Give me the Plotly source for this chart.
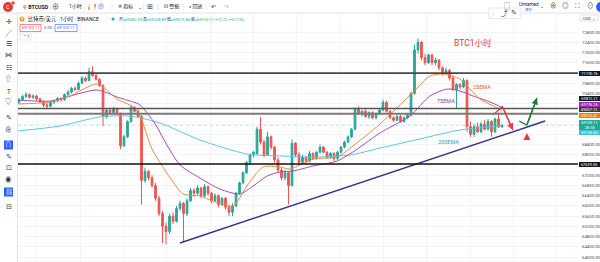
import plotly.graph_objects as go

W, H = 600, 262
ML, MR, MT, MB = 18, 22, 13, 0
PW, PH = W - ML - MR, H - MT - MB

# ---------------- data ----------------
open_ = [
    70050, 70150, 70280, 70350, 70250, 70300, 70180, 70080, 69950, 69900,
    70050, 70100, 70200, 70150, 70350, 70450, 70600, 70550, 70800, 71000,
    70900, 71250, 71100, 70950, 70700, 69500, 69750, 69650, 69800, 69600,
    68350, 68700, 69300, 69850, 69700, 69500, 67000, 67350, 67100, 66800,
    66300, 65700, 65200, 65000, 65600, 65400, 65900, 66100, 65700, 66200,
    66600, 66500, 66700, 66400, 66750, 66500, 66200, 66400, 66050, 66300,
    65950, 65750, 66000, 66500, 66900, 67300, 67700, 68000, 68050, 69000,
    68500, 68000, 68700, 68300, 67800, 67400, 67100, 67300, 66800, 68450,
    68000, 67700, 67900, 67750, 68050, 67850, 68100, 68300, 68100, 67900,
    68050, 67850, 68100, 68300, 68500, 68700, 69000, 69800, 69600, 69700,
    69500, 69650, 69450, 69600, 69750, 70050, 69700, 69450, 69350, 69500,
    69300, 69450, 69550, 70400, 72100, 72400, 71800, 71600, 71900, 71600,
    71700, 71400, 71200, 71300, 71000, 70550, 70750, 70650, 70900, 69100,
    68800, 69100, 68900, 69200, 69000, 69300, 68900, 69400, 69082.33]
high = [
    70220, 70330, 70450, 70400, 70360, 70340, 70230, 70120, 70020, 70100,
    70160, 70260, 70250, 70400, 70520, 70650, 70680, 70860, 71080, 71060,
    71400, 71470, 71160, 71000, 70760, 69800, 69820, 69880, 69850, 69650,
    68780, 69350, 69950, 69900, 69780, 69550, 67500, 67400, 67200, 66900,
    66400, 65800, 65350, 65700, 65750, 66000, 66200, 66150, 66300, 66700,
    66700, 66800, 66750, 66850, 66800, 66550, 66500, 66450, 66350, 66350,
    66050, 66100, 66550, 66950, 67350, 67750, 68050, 68150, 69100, 69480,
    68600, 68900, 68750, 68350, 67900, 67500, 67400, 67350, 68600, 68500,
    68100, 68000, 67950, 68150, 68100, 68150, 68400, 68350, 68150, 68100,
    68100, 68150, 68350, 68550, 68750, 69050, 69850, 69900, 69750, 69780,
    69700, 69700, 69650, 69800, 70150, 70100, 69750, 69500, 69550, 69550,
    69500, 69600, 70450, 72300, 72550, 72450, 71950, 71950, 71950, 71800,
    71750, 71450, 71400, 71350, 71100, 70800, 70800, 71000, 70950, 69300,
    69200, 69250, 69300, 69350, 69400, 69350, 69450, 69650, 69208.89]
low = [
    69980, 70100, 70220, 70200, 70180, 70120, 70020, 69850, 69780, 69860,
    69980, 70060, 70080, 70120, 70300, 70400, 70480, 70520, 70760, 70840,
    70880, 71050, 70900, 70650, 69120, 69420, 69550, 69600, 69550, 68220,
    68300, 68650, 69250, 69650, 69450, 66050, 66900, 67000, 66700, 66200,
    65600, 64550, 64500, 64900, 65300, 65350, 65800, 64600, 65600, 66150,
    66350, 66400, 66300, 66350, 66400, 66100, 66150, 65950, 66000, 65850,
    65600, 65600, 65950, 66450, 66850, 67250, 67600, 67900, 68000, 68400,
    67900, 67950, 68200, 67700, 67300, 67000, 67000, 66050, 66750, 67900,
    67600, 67650, 67650, 67700, 67800, 67800, 68050, 68050, 67850, 67850,
    67750, 67800, 68050, 68250, 68450, 68650, 68950, 69550, 69500, 69450,
    69400, 69400, 69380, 69550, 69700, 69650, 69400, 69280, 69300, 69250,
    69250, 69400, 69500, 70350, 71950, 71700, 71500, 71550, 71500, 71500,
    71300, 71100, 71150, 70900, 70500, 69800, 70550, 70600, 68900, 68700,
    68700, 68850, 68850, 68950, 68950, 68700, 68850, 69050, 69075.45]
close = [
    70150, 70280, 70350, 70250, 70300, 70180, 70080, 69950, 69900, 70050,
    70100, 70200, 70150, 70350, 70450, 70600, 70550, 70800, 71000, 70900,
    71250, 71100, 70950, 70700, 69500, 69750, 69650, 69800, 69600, 68350,
    68700, 69300, 69850, 69700, 69500, 67000, 67350, 67100, 66800, 66300,
    65700, 65200, 65000, 65600, 65400, 65900, 66100, 65700, 66200, 66600,
    66500, 66700, 66400, 66750, 66500, 66200, 66400, 66050, 66300, 65950,
    65750, 66000, 66500, 66900, 67300, 67700, 68000, 68100, 69000, 68500,
    68000, 68700, 68300, 67800, 67400, 67100, 67300, 66800, 68450, 68000,
    67700, 67900, 67750, 68050, 67850, 68100, 68300, 68100, 67900, 68050,
    67850, 68100, 68300, 68500, 68700, 69000, 69800, 69600, 69700, 69500,
    69650, 69450, 69600, 69750, 70050, 69700, 69450, 69350, 69500, 69300,
    69450, 69550, 70400, 72100, 72400, 71800, 71600, 71900, 71600, 71700,
    71400, 71200, 71300, 71000, 70550, 70750, 70650, 70900, 69100, 68800,
    69100, 68900, 69200, 69000, 69300, 68900, 69400, 69082.33, 69153.11]
bar_index = list(range(len(close)))

ema25_x = [-0.3, 8.9, 14.6, 22.3, 28.0, 32.6, 34.6, 38.0, 44.0, 46.9, 51.7, 55.4, 61.1, 65.1,
           69.7, 74.6, 77.4, 84.0, 90.9, 95.4, 103.1, 112.6, 117.4, 121.1, 126.0, 128.0,
           131.7, 136.6, 138.0]
ema25_y = [69985, 70063, 70298, 70767, 70180, 69868, 69516, 68225, 66935, 66466, 66388, 66192,
           65997, 66779, 67522, 67522, 67443, 67834, 67912, 68343, 69200, 70454, 71080, 71158,
           70962, 70689, 70180, 69830, 69700]
ema75_x = [-0.3, 8.9, 22.3, 28.0, 32.6, 34.6, 38.9, 42.6, 46.0, 51.7, 57.4, 63.1, 66.9, 70.9,
           74.6, 78.3, 84.0, 90.9, 95.4, 103.1, 111.7, 117.4, 122.3, 126.0, 129.7, 134.6, 138.0]
ema75_y = [70141, 70102, 70532, 70259, 70063, 69946, 69203, 68300, 67600, 67090, 66660, 66466,
           66779, 67170, 67326, 67365, 67561, 67756, 68108, 68850, 69516, 70298, 70571, 70493,
           70298, 70063, 69850]
ema200_x = [-0.3, 11.7, 23.1, 31.7, 40.3, 51.7, 65.1, 75.4, 84.0, 94.6, 103.1, 114.6, 126.0, 138.0]
ema200_y = [68930, 69125, 69480, 69515, 69240, 68580, 68030, 67950, 67910, 67990, 68260, 68620,
            68970, 69137]

level_prices = [71190.76, 69812.21, 69607.12, 67639.55]
trend_x = [46.0, 150.3]
trend_y = [64550, 69320]
red_path_x = [135.4, 138.1, 141.1]
red_path_y = [69555, 69887, 68968]
green_path_x = [142.9, 145.1, 148.0]
green_path_y = [69320, 69164, 70220]
alert_x = [145.1]
alert_y = [68851]

tick_vals = [64000, 64400, 64800, 65200, 65600, 66000, 66400, 66800, 67200, 67600, 68000,
             68400, 68800, 69200, 69600, 70000, 70400, 70800, 71200, 71600, 72000, 72400, 72800]
# ticks hidden behind the coloured price labels (as on the reference)
hidden_ticks = [67600, 68800, 69200, 69600, 70000, 71200]
tick_text = ["" if v in hidden_ticks else f"{v:.2f}" for v in tick_vals]

right_label_text = ["71190.76", "69812.21", "69776.26", "69607.12", "69515.42",
                    "69153.11<br>28:18", "69136.83", "67639.55"]
right_label_py = [73, 98.5, 104, 109.5, 115, 124.5, 132.5, 164]
right_label_bg = ["#131722", "#131722", "#9c27b0", "#3b3b3b", "#f57c00",
                  "#22ab94", "#3fc1cf", "#131722"]

x_range = [-0.29, 159.71]
y_range = [63807, 73543]

FONT = "Roboto, 'Noto Sans CJK SC', sans-serif"


def fx(px):
    return (px - ML) / PW


def fy(py):
    return (H - MB - py) / PH


fig = go.Figure()

fig.add_trace(go.Scatter(x=ema200_x, y=ema200_y, mode="lines",
                         line=dict(color="#5ec8d4", width=1, shape="spline", smoothing=0.7),
                         hoverinfo="skip", showlegend=False))
fig.add_trace(go.Scatter(x=ema75_x, y=ema75_y, mode="lines",
                         line=dict(color="#a04cc4", width=1, shape="spline", smoothing=0.7),
                         hoverinfo="skip", showlegend=False))
fig.add_trace(go.Scatter(x=ema25_x, y=ema25_y, mode="lines",
                         line=dict(color="#f0883e", width=1, shape="spline", smoothing=0.7),
                         hoverinfo="skip", showlegend=False))

fig.add_trace(go.Candlestick(
    x=bar_index, open=open_, high=high, low=low, close=close,
    increasing=dict(line=dict(color="#26a69a", width=1), fillcolor="#26a69a"),
    decreasing=dict(line=dict(color="#ef5350", width=1), fillcolor="#ef5350"),
    whiskerwidth=0, hoverinfo="skip", showlegend=False))

fig.add_trace(go.Scatter(x=trend_x, y=trend_y, mode="lines",
                         line=dict(color="#3a2d8f", width=1.4),
                         hoverinfo="skip", showlegend=False))
fig.add_trace(go.Scatter(x=red_path_x, y=red_path_y, mode="lines",
                         line=dict(color="#f23645", width=1.3),
                         hoverinfo="skip", showlegend=False))
fig.add_trace(go.Scatter(x=green_path_x, y=green_path_y, mode="lines",
                         line=dict(color="#1b7d2b", width=1.3),
                         hoverinfo="skip", showlegend=False))
fig.add_trace(go.Scatter(x=alert_x, y=alert_y, mode="markers",
                         marker=dict(symbol="arrow-up", size=7, color="#f23645"),
                         hoverinfo="skip", showlegend=False))

shapes = []
level_styles = [("#4a4a4a", 1.8), ("#555555", 1.5), ("#7a7a7a", 2.0), ("#111111", 1.3)]
for p, (c, w) in zip(level_prices, level_styles):
    shapes.append(dict(type="line", xref="paper", yref="y", x0=0, x1=1, y0=p, y1=p,
                       line=dict(color=c, width=w)))
shapes.append(dict(type="line", xref="paper", yref="y", x0=0, x1=1, y0=close[-1], y1=close[-1],
                   line=dict(color="#9fd9d2", width=0.7, dash="dot"), layer="below"))

shapes.append(dict(type="line", xref="paper", yref="paper", x0=fx(0), x1=fx(600), y0=fy(13), y1=fy(13),
                   line=dict(color="#e0e3eb", width=1)))
shapes.append(dict(type="line", xref="paper", yref="paper", x0=fx(17.5), x1=fx(17.5), y0=fy(13), y1=fy(262),
                   line=dict(color="#e0e3eb", width=1)))
for sx in [50, 84, 112, 143, 158, 183, 206]:
    shapes.append(dict(type="line", xref="paper", yref="paper", x0=fx(sx), x1=fx(sx), y0=fy(3), y1=fy(10),
                       line=dict(color="#e0e3eb", width=0.8)))
for sx in [547, 559, 571, 583]:
    shapes.append(dict(type="line", xref="paper", yref="paper", x0=fx(sx), x1=fx(sx), y0=fy(3), y1=fy(10),
                       line=dict(color="#eeeeee", width=0.6)))
shapes.append(dict(type="circle", xref="paper", yref="paper", x0=fx(3), x1=fx(13), y0=fy(12), y1=fy(2),
                   fillcolor="#e53935", line=dict(width=0)))
shapes.append(dict(type="circle", xref="paper", yref="paper", x0=fx(11), x1=fx(15), y0=fy(5), y1=fy(1),
                   fillcolor="#ff4040", line=dict(color="white", width=0.5)))
shapes.append(dict(type="circle", xref="paper", yref="paper", x0=fx(596), x1=fx(606), y0=fy(12), y1=fy(2),
                   fillcolor="#2962ff", line=dict(width=0)))
shapes.append(dict(type="rect", xref="paper", yref="paper", x0=fx(489), x1=fx(521), y0=fy(18.5), y1=fy(8),
                   fillcolor="white", line=dict(color="#d9dce3", width=0.7)))
shapes.append(dict(type="circle", xref="paper", yref="paper", x0=fx(19.5), x1=fx(24.5), y0=fy(21.5), y1=fy(16.5),
                   fillcolor="#f7931a", line=dict(width=0)))
shapes.append(dict(type="circle", xref="paper", yref="paper", x0=fx(111.5), x1=fx(114.5), y0=fy(20.5), y1=fy(17.5),
                   fillcolor="#22ab94", line=dict(width=0)))
shapes.append(dict(type="rect", xref="paper", yref="paper", x0=fx(20), x1=fx(41), y0=fy(31.5), y1=fy(24.5),
                   fillcolor="white", line=dict(color="#f23645", width=0.6)))
shapes.append(dict(type="rect", xref="paper", yref="paper", x0=fx(55), x1=fx(77), y0=fy(31.5), y1=fy(24.5),
                   fillcolor="white", line=dict(color="#2962ff", width=0.6)))
shapes.append(dict(type="rect", xref="paper", yref="paper", x0=fx(20), x1=fx(31), y0=fy(40), y1=fy(34),
                   fillcolor="white", line=dict(color="#d1d4dc", width=0.6)))
shapes.append(dict(type="rect", xref="paper", yref="paper", x0=fx(580), x1=fx(598), y0=fy(21), y1=fy(15),
                   fillcolor="white", line=dict(color="#d1d4dc", width=0.6)))
for by in [145, 192]:
    shapes.append(dict(type="rect", xref="paper", yref="paper", x0=fx(4), x1=fx(13), y0=fy(by + 4.5), y1=fy(by - 4.5),
                       fillcolor="#2962ff", line=dict(width=0)))

ann = []


def txt(px, py, text, size, color="#131722", anchor="left", **kw):
    ann.append(dict(xref="paper", yref="paper", x=fx(px), y=fy(py), text=text, showarrow=False,
                    xanchor=anchor, yanchor="middle", font=dict(size=size, color=color, family=FONT), **kw))


txt(8, 7, "C", 5, "white", "center")
txt(21, 7, "⚲ <b>BTCUSD</b>", 5.2)
txt(55, 7, "⊕", 7, "#333", "center")
txt(67, 7, "1小时", 5)
txt(92, 7, "╽╿", 6, "#333", "center")
txt(101, 7, "(ƒ)", 5.5, "#2962ff", "center")
txt(116, 7, "≗ 指标", 5)
txt(140, 7, "⌄", 5, "#333", "center")
txt(150, 7, "⊞", 7, "#333", "center")
txt(162, 7, "⊡ 警报", 5)
txt(187, 7, "« 回放", 5)
txt(213, 7, "↶", 6, "#333", "center")
txt(226, 7, "↷", 6, "#b0b0b0", "center")
txt(507, 5.5, "▢", 6, "#333", "center")
txt(517, 4.5, "Unnamed", 4.6)
txt(523, 9.5, "保存", 3.6, "#2962ff")
txt(542, 6, "⌄", 5, "#333", "center")
txt(553, 6.5, "⊕", 6.5, "#333", "center")
txt(565, 6.5, "◎", 6.5, "#333", "center")
txt(577, 6.5, "⛶", 6.5, "#333", "center")
txt(590, 6.5, "⊙", 6.5, "#333", "center")
txt(493, 13, "⁞", 6, "#999", "center")
txt(504, 13, "⤴", 6.5, "#333", "center")
txt(514, 13, "✎", 6.5, "#333", "center")
txt(589, 18, "USD ⌄", 4, "#333", "center")

txt(22, 19, "B", 3.5, "white", "center")
txt(26, 19, "比特币/美元 · 1小时 · BINANCE", 5.2)
g = "#22ab94"
txt(117, 19, f"开<span style='color:{g}'>=69082.33</span> 高<span style='color:{g}'>=69208.89</span> "
             f"低<span style='color:{g}'>=69075.45</span> 收<span style='color:{g}'>=69153.11 +72.72 (+0.11%)</span>",
    4.0)
txt(30.5, 28, "69153.11", 4.2, "#f23645", "center")
txt(48, 28, "0.00", 4.2, "#555", "center")
txt(66, 28, "69153.11", 4.2, "#2962ff", "center")
txt(25.5, 37, "⌃ 1", 4.2, "#333", "center")

left_icons = [(22, "✛"), (33, "╱"), (44, "☰"), (55, "⋈"), (68, "☷"), (79, "⇧"), (92, "T"),
              (102, "♡"), (118, "✎"), (130, "⊕"), (145, "∩"), (157, "✎"), (168, "⊡"),
              (180, "◉"), (192, "⛓"), (207, "⊟")]
for iy, ic in left_icons:
    col = "white" if iy in (145, 192) else "#333"
    txt(8.5, iy, ic, 6.5, col, "center")

for t, py, bg in zip(right_label_text, right_label_py, right_label_bg):
    ann.append(dict(xref="paper", yref="paper", x=fx(589), y=fy(py), text=t, showarrow=False,
                    xanchor="center", yanchor="middle", bgcolor=bg, width=21, borderpad=0,
                    borderwidth=0, font=dict(size=3.9, color="white", family=FONT)))

ann.append(dict(x=129.7, y=72370, text="BTC1小时", showarrow=False, xanchor="center",
                font=dict(size=8.5, color="#e53935", family=FONT)))
ann.append(dict(x=132.3, y=70650, text="25EMA", showarrow=False, xanchor="center",
                font=dict(size=5.5, color="#e65c19", family=FONT)))
ann.append(dict(x=122.0, y=70100, text="75EMA", showarrow=False, xanchor="center",
                font=dict(size=5.5, color="#8e3aa8", family=FONT)))
ann.append(dict(x=122.6, y=68500, text="200EMA", showarrow=False, xanchor="center",
                font=dict(size=5.5, color="#1e9fb0", family=FONT)))
ann.append(dict(x=red_path_x[-1], y=red_path_y[-1], ax=red_path_x[-2], ay=red_path_y[-2],
                xref="x", yref="y", axref="x", ayref="y", text="", showarrow=True,
                arrowhead=2, arrowsize=1, arrowwidth=1.3, arrowcolor="#f23645"))
ann.append(dict(x=green_path_x[-1], y=green_path_y[-1], ax=green_path_x[-2], ay=green_path_y[-2],
                xref="x", yref="y", axref="x", ayref="y", text="", showarrow=True,
                arrowhead=2, arrowsize=1, arrowwidth=1.3, arrowcolor="#1b7d2b"))

fig.update_layout(
    width=W, height=H,
    margin=dict(l=ML, r=MR, t=MT, b=MB, pad=0),
    paper_bgcolor="white", plot_bgcolor="white",
    font=dict(family=FONT),
    shapes=shapes, annotations=ann,
    showlegend=False,
    xaxis=dict(range=x_range, rangeslider=dict(visible=False), showticklabels=False,
               showgrid=True, gridcolor="#f0f3fa", gridwidth=1, tick0=5.06, dtick=12.38,
               zeroline=False, showline=False, ticks=""),
    yaxis=dict(range=y_range, side="right", tickvals=tick_vals, ticktext=tick_text,
               showgrid=True, gridcolor="#f0f3fa", gridwidth=1, zeroline=False,
               tickfont=dict(size=4.3, color="#4a4a4a", family=FONT), ticks="",
               ticklabelstandoff=3, showline=False),
)

fig.write_html("out.html", config={"displayModeBar": False, "staticPlot": True})
